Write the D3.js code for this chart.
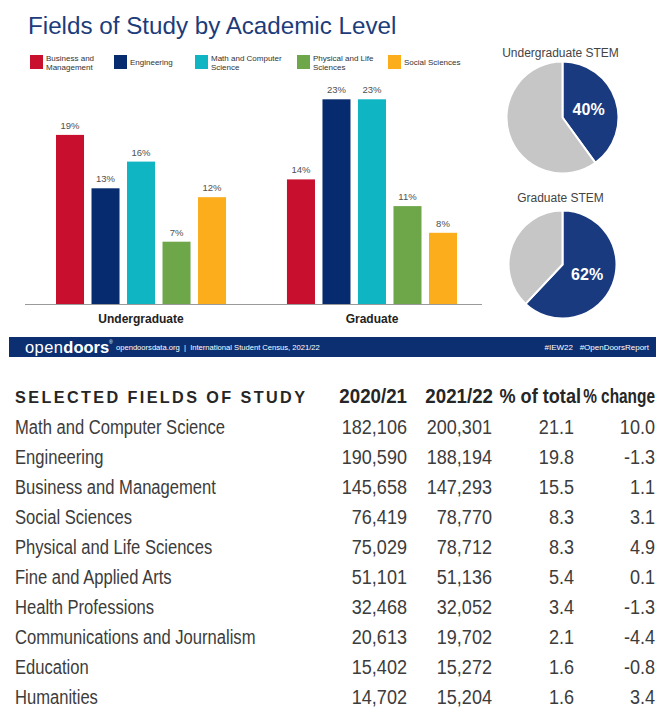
<!DOCTYPE html>
<html><head><meta charset="utf-8">
<script src="https://cdn.jsdelivr.net/npm/d3@7"></script>
<style>
html,body{margin:0;padding:0;background:#fff;}
svg{display:block;}
</style></head>
<body>
<svg id="c" width="672" height="717"></svg>
<script>
// ---- data ----
const fields = ["Business and Management","Engineering","Math and Computer Science","Physical and Life Sciences","Social Sciences"];
const legendLines = [["Business and","Management"],["Engineering"],["Math and Computer","Science"],["Physical and Life","Sciences"],["Social Sciences"]];
const fieldColors = ["#c8102e","#062b6e","#10b5c4","#6ea64a","#fbad1c"];
const levels = ["Undergraduate","Graduate"];
const undergraduateShares = [19,13,16,7,12];
const graduateShares = [14,23,23,11,8];
const stemTitles = ["Undergraduate STEM","Graduate STEM"];
const stemShares = [40,62];

const tableHeader = ["SELECTED FIELDS OF STUDY","2020/21","2021/22","% of total","% change"];
const tableFields = ["Math and Computer Science","Engineering","Business and Management","Social Sciences","Physical and Life Sciences","Fine and Applied Arts","Health Professions","Communications and Journalism","Education","Humanities"];
const enrolled2020 = [182106,190590,145658,76419,75029,51101,32468,20613,15402,14702];
const enrolled2021 = [200301,188194,147293,78770,78712,51136,32052,19702,15272,15204];
const pctOfTotal = [21.1,19.8,15.5,8.3,8.3,5.4,3.4,2.1,1.6,1.6];
const pctChange = [10.0,-1.3,1.1,3.1,4.9,0.1,-1.3,-4.4,-0.8,3.4];

const svg = d3.select("#c");
const SANS = "'Liberation Sans', Arial, Helvetica, sans-serif";

// ---- title ----
svg.append("text").attr("x",28).attr("y",34)
  .attr("font-family",SANS).attr("font-size",24.2).attr("fill","#1c3c7a")
  .text("Fields of Study by Academic Level");

// ---- legend ----
const legendX = [30,114,195,297,388];
const lg = svg.append("g");
fields.forEach((f,i)=>{
  const g = lg.append("g").attr("transform",`translate(${legendX[i]},55)`);
  g.append("rect").attr("width",13).attr("height",14).attr("fill",fieldColors[i]);
  const lines = legendLines[i];
  lines.forEach((l,j)=>{
    g.append("text").attr("x",16)
      .attr("y", lines.length===1 ? 10 : 5.5 + j*9.5)
      .attr("font-family",SANS).attr("font-size",8).attr("fill","#333").text(l);
  });
});

// ---- bars ----
const y = d3.scaleLinear().domain([0,25]).range([304,81.5]);
const x0 = d3.scaleBand().domain(levels).range([29,484]).paddingInner(0.23).paddingOuter(0.1);
const x1 = d3.scaleBand().domain(fields).range([0,x0.bandwidth()]).paddingInner(0.211).paddingOuter(0.11);
const seriesByLevel = {"Undergraduate":undergraduateShares,"Graduate":graduateShares};

const groups = svg.append("g").selectAll("g").data(levels).join("g")
  .attr("transform",d=>`translate(${x0(d)},0)`);
groups.each(function(lvl){
  const vals = seriesByLevel[lvl].map((v,i)=>({f:fields[i],v,c:fieldColors[i]}));
  const g = d3.select(this);
  g.selectAll("rect").data(vals).join("rect")
    .attr("x",d=>x1(d.f)).attr("width",x1.bandwidth())
    .attr("y",d=>y(d.v)).attr("height",d=>y(0)-y(d.v)).attr("fill",d=>d.c);
  g.selectAll("text.lbl").data(vals).join("text").attr("class","lbl")
    .attr("x",d=>x1(d.f)+x1.bandwidth()/2).attr("y",d=>y(d.v)-6)
    .attr("text-anchor","middle").attr("font-family",SANS).attr("font-size",9.5).attr("fill","#505050")
    .text(d=>d.v+"%");
});
// axis
const xAxis = d3.axisBottom(x0).tickSize(0).tickPadding(14);
const ax = svg.append("g").attr("transform",`translate(0,${y(0)})`).call(xAxis);
ax.select(".domain").attr("d","M25,0.5H482").attr("stroke","#9a9a9a").attr("stroke-width",1.2);
ax.selectAll(".tick text").attr("font-family",SANS).attr("font-size",12).attr("font-weight","bold").attr("fill","#222").attr("dy","0.45em");

// ---- pies ----
const pieGeom = [[562.5,117.5,56,57],[562.5,264.5,54,201.5]];
const pie = d3.pie().sort(null).value(d=>d);
stemShares.forEach((s,i)=>{
  const [cx,cy,r,ty] = pieGeom[i];
  const g = svg.append("g").attr("transform",`translate(${cx},${cy})`);
  const arcs = pie([s,100-s]);
  const arc = d3.arc().innerRadius(0).outerRadius(r);
  g.selectAll("path").data(arcs).join("path").attr("d",arc)
    .attr("fill",(d,k)=>k===0?"#1a3a80":"#c6c6c6").attr("stroke","#fff").attr("stroke-width",2);
  const la = d3.arc().innerRadius(0).outerRadius(r*0.98);
  const c = la.centroid(arcs[0]);
  g.append("text").attr("x",c[0]).attr("y",c[1]).attr("dy","0.36em").attr("text-anchor","middle")
    .attr("font-family",SANS).attr("font-size",16).attr("font-weight","bold").attr("fill","#fff").text(s+"%");
  svg.append("text").attr("x",cx-2).attr("y",ty).attr("text-anchor","middle")
    .attr("font-family",SANS).attr("font-size",12).attr("fill","#444").text(stemTitles[i]);
});

// ---- footer bar ----
svg.append("rect").attr("x",9).attr("y",337).attr("width",647).attr("height",20).attr("fill","#0c2f72");
const logo = svg.append("text").attr("x",25).attr("y",353).attr("font-family",SANS).attr("font-size",16.5).attr("fill","#fff");
logo.append("tspan").attr("font-weight","normal").attr("letter-spacing",0.4).text("open");
logo.append("tspan").attr("font-weight","bold").text("doors");
svg.append("text").attr("x",109).attr("y",344).attr("font-family",SANS).attr("font-size",5).attr("fill","#fff").text("®");
svg.append("text").attr("x",116).attr("y",350).attr("font-family",SANS).attr("font-size",7.6).attr("fill","#fff")
  .attr("xml:space","preserve").text("opendoorsdata.org  |  International Student Census, 2021/22");
svg.append("text").attr("x",649).attr("y",350).attr("text-anchor","end").attr("font-family",SANS).attr("font-size",8).attr("fill","#fff")
  .attr("xml:space","preserve").text("#IEW22   #OpenDoorsReport");

// ---- table ----
const loc = d3.formatLocale({decimal:".",thousands:",",grouping:[3],currency:["$",""],minus:"-"});
const fmt = loc.format(",");
const fmt1 = loc.format(".1f");
const colRight = [407,492,574,655];
const headRight = [407,493,581,655];
const headSqueeze = [0.96,0.96,0.93,0.79];
const rowY = d3.scaleLinear().domain([0,1]).range([434,464]);

// condensed text helper (horizontal squeeze to imitate a condensed face)
function ctext(parent, x, yy, str, sx, anchor){
  return parent.append("text")
    .attr("transform",`translate(${x},${yy}) scale(${sx},1)`)
    .attr("text-anchor",anchor||"start").text(str);
}

const head = svg.append("g").attr("font-family",SANS).attr("fill","#262626").attr("font-weight","bold");
head.append("text").attr("x",15).attr("y",403).attr("font-size",16.2).attr("letter-spacing",2.4).text(tableHeader[0]);
const headNums = head.append("g").attr("font-size",19.5);
tableHeader.slice(1).forEach((h,i)=> ctext(headNums, headRight[i], 403, h, headSqueeze[i], "end"));

const body = svg.append("g").attr("font-family",SANS).attr("font-size",21).attr("fill","#3c3c3c");
tableFields.forEach((f,i)=>{
  const yy = rowY(i);
  ctext(body, 15, yy, f, 0.79, "start");
  ctext(body, colRight[0], yy, fmt(enrolled2020[i]), 0.86, "end");
  ctext(body, colRight[1], yy, fmt(enrolled2021[i]), 0.86, "end");
  ctext(body, colRight[2], yy, fmt1(pctOfTotal[i]), 0.86, "end");
  ctext(body, colRight[3], yy, fmt1(pctChange[i]), 0.86, "end");
});
</script>
</body></html>
